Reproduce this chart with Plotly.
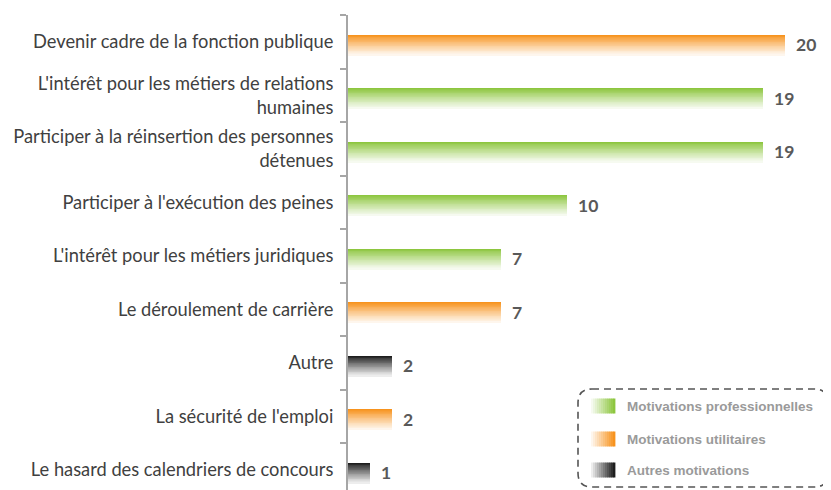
import plotly.graph_objects as go

# ---- data ----
categories = [
    "Devenir cadre de la fonction publique",
    "L'intérêt pour les métiers de relations<br>humaines",
    "Participer à la réinsertion des personnes<br>détenues",
    "Participer à l'exécution des peines",
    "L'intérêt pour les métiers juridiques",
    "Le déroulement de carrière",
    "Autre",
    "La sécurité de l'emploi",
    "Le hasard des calendriers de concours",
]
values = [20, 19, 19, 10, 7, 7, 2, 2, 1]
groups = ["util", "pro", "pro", "pro", "pro", "util", "autre", "util", "autre"]

legend_names = ["Motivations professionnelles", "Motivations utilitaires", "Autres motivations"]
legend_groups = ["pro", "util", "autre"]
group_colors = {"pro": (141, 198, 63), "util": (247, 147, 30), "autre": (30, 30, 30)}

# page has an 8px body margin: figure occupies window pixels 8..831 / 8..490
OFF = 8
W, H = 831 - OFF, 490 - OFF
L, R, T, B = 348 - OFF, 2, 15 - OFF, 0
PX_PER_UNIT = 21.85
PX_PER_CAT = 53.5
plot_w = W - L - R
plot_h = H - T - B


def mix(c, t):
    """mix colour c with white by fraction t"""
    return "rgb(%d,%d,%d)" % tuple(round(v + (255 - v) * t) for v in c)


def px_x(px):  # window pixel -> paper
    return (px - OFF - L) / plot_w


def px_y(py):
    return (H - B - (py - OFF)) / plot_h


fig = go.Figure()

# gradient bars: each bar drawn as horizontal stripes (top dark -> bottom light)
BW = 0.37
N = 24
step = BW / N
shift = -0.07
for g in legend_groups:
    ys = [c for c, gg in zip(categories, groups) if gg == g]
    xs = [v for v, gg in zip(values, groups) if gg == g]
    for i in range(N):
        t = 0.92 * (i / (N - 1)) ** 0.9
        fig.add_trace(go.Bar(
            x=xs, y=ys, orientation="h",
            width=step * 1.25,
            offset=BW / 2 - (i + 1) * step + shift,
            marker=dict(color=mix(group_colors[g], t), line=dict(width=0)),
            showlegend=False, hoverinfo="skip",
        ))

# value labels
for c, v in zip(categories, values):
    fig.add_annotation(
        x=v, y=c, text="<b>%d</b>" % v, showarrow=False,
        xanchor="left", yanchor="middle", xshift=9, yshift=-3,
        font=dict(family="Lato, Carlito, sans-serif", size=17.5, color="#595959"),
    )

shapes = []
# dashed rounded legend box
x0, x1, y0, y1, r = 578, 828, 389, 487, 14


def P(x, y):
    return "%.5f,%.5f" % (px_x(x), px_y(y))


path = ("M " + P(x0 + r, y0) + " L " + P(x1 - r, y0) + " Q " + P(x1, y0) + " " + P(x1, y0 + r)
        + " L " + P(x1, y1 - r) + " Q " + P(x1, y1) + " " + P(x1 - r, y1)
        + " L " + P(x0 + r, y1) + " Q " + P(x0, y1) + " " + P(x0, y1 - r)
        + " L " + P(x0, y0 + r) + " Q " + P(x0, y0) + " " + P(x0 + r, y0) + " Z")
shapes.append(dict(type="path", path=path, xref="paper", yref="paper",
                   line=dict(color="#555555", width=1.6, dash="7px,5px")))

# legend swatches (horizontal gradient) and texts
leg_y = [406, 439, 470]
sw_x0, sw_x1, sw_h = 591, 615, 15
M = 12
for name, g, yc in zip(legend_names, legend_groups, leg_y):
    for j in range(M):
        t = 0.92 * (1 - j / (M - 1))
        xa = sw_x0 + (sw_x1 - sw_x0) * j / M
        xb = sw_x0 + (sw_x1 - sw_x0) * (j + 1) / M + 0.4
        shapes.append(dict(type="rect", xref="paper", yref="paper",
                           x0=px_x(xa), x1=px_x(xb), y0=px_y(yc + sw_h / 2), y1=px_y(yc - sw_h / 2),
                           line=dict(width=0), fillcolor=mix(group_colors[g], t), layer="above"))
    fig.add_annotation(x=px_x(625), y=px_y(yc), xref="paper", yref="paper",
                       text="<b>%s</b>" % name, showarrow=False, xanchor="left", yanchor="middle",
                       font=dict(family="Liberation Sans, Arial, sans-serif", size=13.5, color="#9a9a9a"))

fig.update_layout(
    width=W, height=H,
    margin=dict(l=L, r=R, t=T, b=B, pad=0, autoexpand=False),
    paper_bgcolor="white", plot_bgcolor="white",
    barmode="overlay", bargap=0,
    showlegend=False,
    shapes=shapes,
    xaxis=dict(range=[0, plot_w / PX_PER_UNIT], visible=False, fixedrange=True, automargin=False),
    yaxis=dict(
        type="category", automargin=False,
        categoryorder="array", categoryarray=categories[::-1],
        range=[8.5 - plot_h / PX_PER_CAT, 8.5],
        showline=True, linecolor="#a6a6a6", linewidth=2,
        ticks="outside", tickson="boundaries", ticklen=6, tickwidth=1.5, tickcolor="#a6a6a6",
        showgrid=False, zeroline=False,
        tickfont=dict(family="Lato, Carlito, sans-serif", size=18.3, color="#404040"),
        ticklabelstandoff=9,
    ),
)

fig.write_html("out.html")
